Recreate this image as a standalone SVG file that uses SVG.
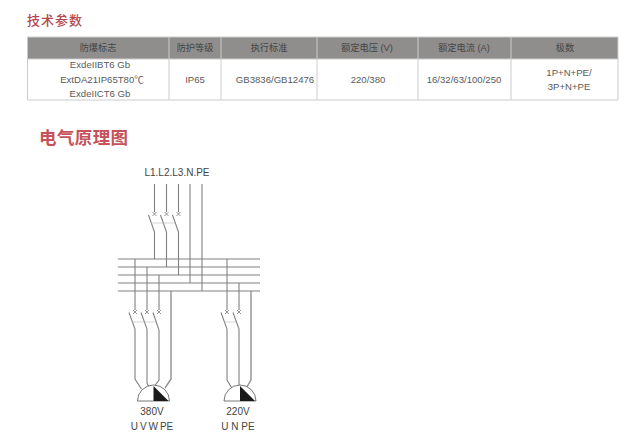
<svg xmlns="http://www.w3.org/2000/svg" width="640" height="445" viewBox="0 0 640 445">
<style>
text{font-family:"Liberation Sans","Noto Sans CJK SC",sans-serif;fill:#5a5a5a;font-size:9.6px;text-anchor:middle}
.h{font-size:9.2px;fill:#444}
.t1{font-size:13px;fill:#b5484f;text-anchor:start;letter-spacing:1px;font-weight:500}
.t2{font-size:17.500px;fill:#c5525a;text-anchor:start;letter-spacing:.4px;font-weight:700}
.d{font-size:10px;fill:#444}
.g{stroke:#ccc;stroke-width:1;fill:none}
.w{stroke:#808080;stroke-width:1.1;fill:none}
.b{stroke:#909090;stroke-width:1.4;fill:none}
.m{stroke:#666;stroke-width:.7;fill:none}
.k{stroke:#bbb;stroke-width:.6;fill:none}
</style>
<rect width="640" height="445" fill="#fff"/>
<text class="t1" x="27" y="25">技术参数</text>
<g id="table">
<rect x="27.500" y="37" width="590.500" height="22" fill="#8f8e8c"/>
<path class="g" d="M27.500 37H618V100H27.500ZM27.500 59H618M169 37V100M221 37V100M317 37V100M418 37V100M511 37V100"/>
<text class="h" x="98" y="51">防爆标志</text>
<text class="h" x="195" y="51">防护等级</text>
<text class="h" x="269" y="51">执行标准</text>
<text class="h" x="367" y="51">额定电压 (V)</text>
<text class="h" x="464" y="51">额定电流 (A)</text>
<text class="h" x="565" y="51">极数</text>
<text x="100" y="68">ExdeIIBT6 Gb</text>
<text x="102" y="83">ExtDA21IP65T80℃</text>
<text x="100" y="97">ExdeIICT6 Gb</text>
<text x="195" y="83">IP65</text>
<text x="275" y="83">GB3836/GB12476</text>
<text x="368" y="83">220/380</text>
<text x="464" y="83">16/32/63/100/250</text>
<text x="569" y="76">1P+N+PE/</text>
<text x="569" y="90">3P+N+PE</text>
</g>
<text class="t2" x="39" y="144">电气原理图</text>
<g id="connectors">
<path class="w" d="M118 259H260M118 267H260M118 275H260M118 283H260M118 291H260"/>
<path class="w" d="M154.500 184V212M166.500 184V212M178.500 184V212M148.500 215L154.500 232V259M160.500 215L166.500 232V267M172.500 215L178.500 232V275M190 184V283M202 184V291"/>
<path class="k" d="M151 223H175"/>
<path class="m" d="M152.500 212l4 4m0-4l-4 4M164.500 212l4 4m0-4l-4 4M176.500 212l4 4m0-4l-4 4"/>
<path class="w" d="M135 259V310M147 267V310M159 275V310M129 312.500L135 329V379L141.500 389M141 312.500L147 329V383L149 387M153 312.500L159 330V380L153 388"/>
<path class="b" d="M171 291V379L165 388"/>
<path class="k" d="M132 322H156"/>
<path class="m" d="M133 310l4 4m0-4l-4 4M145 310l4 4m0-4l-4 4M157 310l4 4m0-4l-4 4"/>
<path class="w" d="M227 259V310M239 283V310M221 312.500L227 329V380L233 390M233 312.500L239 329V385"/>
<path class="b" d="M251 291V380L245 390"/>
<path class="k" d="M224 322H236"/>
<path class="m" d="M225 310l4 4m0-4l-4 4M237 310l4 4m0-4l-4 4"/>
</g>
<g id="motor-380">
<path d="M137.500 401A16 16 0 0 1 169.500 401Z" fill="#fff" stroke="#555" stroke-width=".8"/>
<path d="M153.500 386L168.500 401H153.500Z" fill="#1a1a1a"/>
<text class="d" x="152" y="415">380V</text>
<text class="d" x="152" y="430" style="word-spacing:-.8px">U V W PE</text>
</g>
<g id="motor-220">
<path d="M224 401A16 16 0 0 1 256 401Z" fill="#fff" stroke="#555" stroke-width=".8"/>
<path d="M240 386L255 401H240Z" fill="#1a1a1a"/>
<text class="d" x="238" y="415">220V</text>
<text class="d" x="238" y="430">U N PE</text>
</g>
<text class="d" x="177" y="176">L1.L2.L3.N.PE</text>
</svg>
